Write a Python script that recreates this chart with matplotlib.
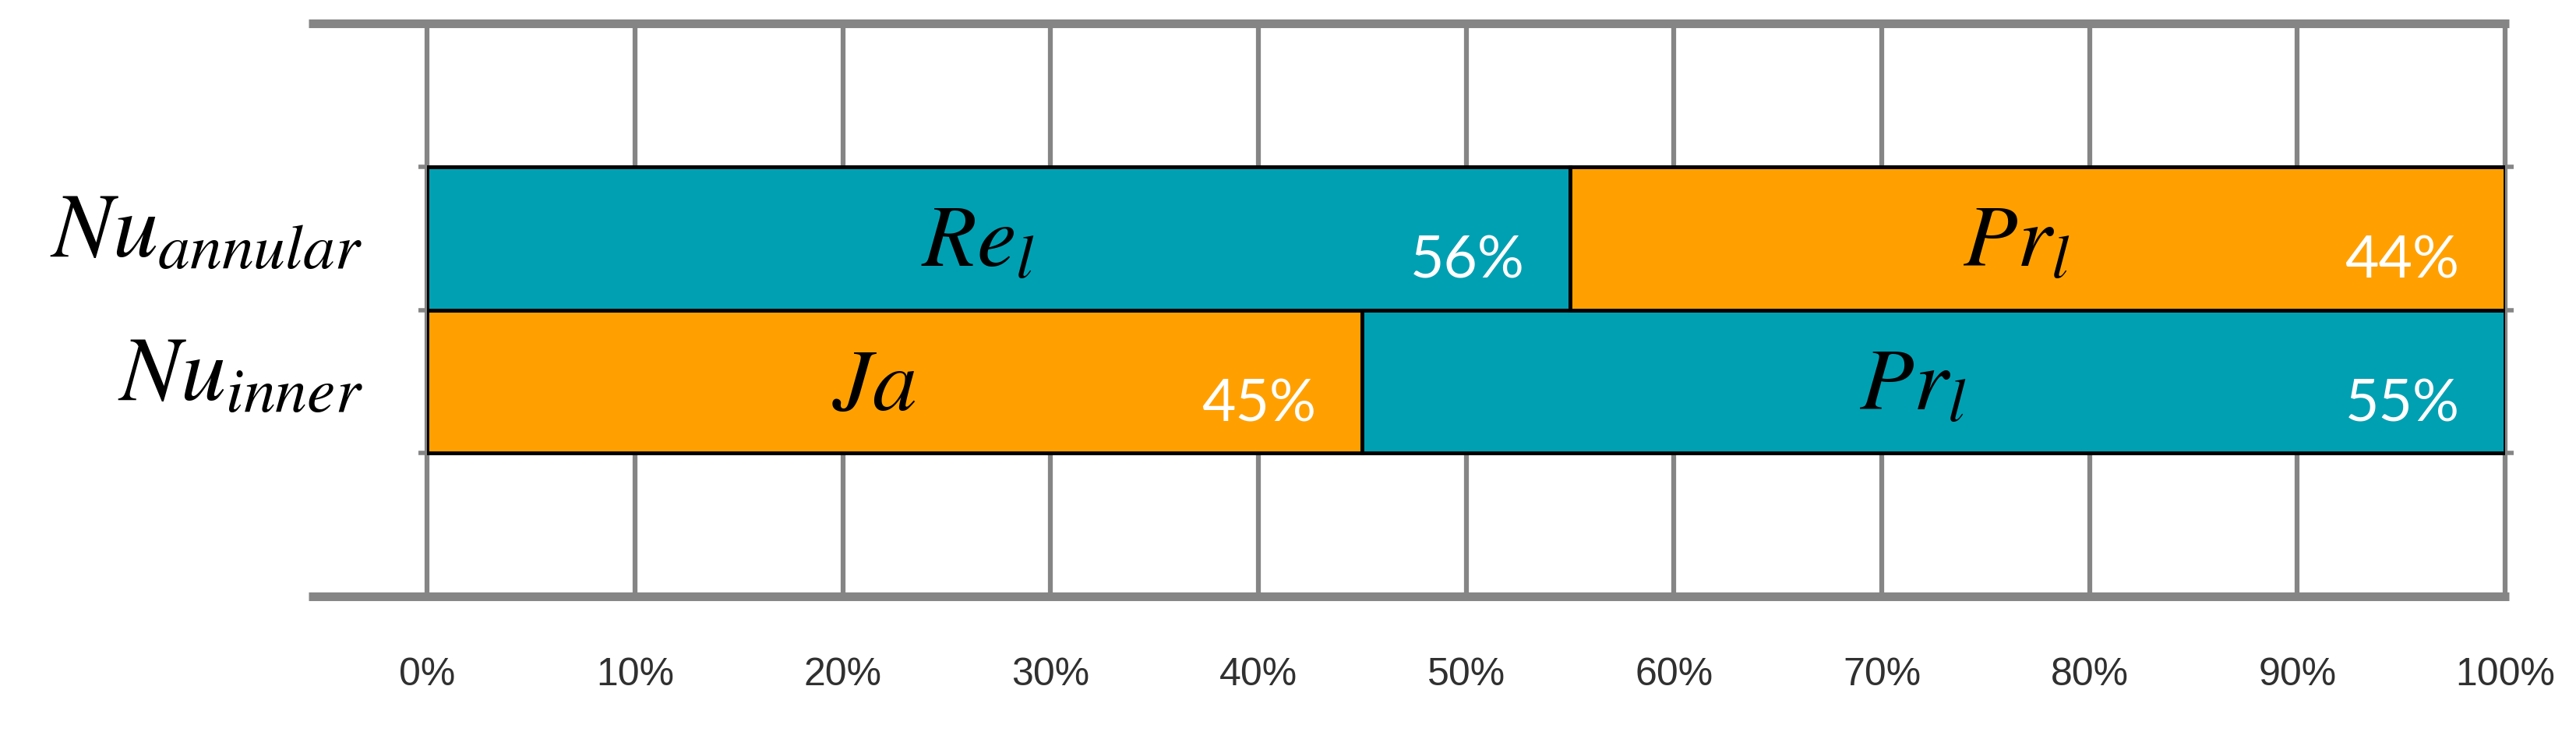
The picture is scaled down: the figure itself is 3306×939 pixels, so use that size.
import matplotlib.pyplot as plt
import numpy as np

plt.rcParams['mathtext.fontset'] = 'stix'

# rows, bottom to top
rows = [r'$Nu_{inner}$', r'$Nu_{annular}$']
first_share = [45, 55]
second_share = [55, 45]
first_pct = ['45%', '56%']
second_pct = ['55%', '44%']
first_names = [r'$Ja$', r'$Re_l$']
second_names = [r'$Pr_l$', r'$Pr_l$']
xtick_vals = [0, 10, 20, 30, 40, 50, 60, 70, 80, 90, 100]

teal = '#00A0B3'
orange = '#FFA000'
first_colors = [orange, teal]
second_colors = [teal, orange]
grid_gray = '#858585'

fig = plt.figure(figsize=(33.06, 9.39), dpi=100)
ax = fig.add_axes([0.1658, 0.1853, 0.8067, 0.7827])

ypos = np.array([1.5, 2.5])
ax.barh(ypos, first_share, height=1.0, color=first_colors,
        edgecolor='black', linewidth=3.5, zorder=3)
ax.barh(ypos, second_share, left=first_share, height=1.0, color=second_colors,
        edgecolor='black', linewidth=3.5, zorder=3)

pct_font = dict(color='white', fontsize=54, family=['Lato', 'DejaVu Sans'],
                ha='right', va='center', zorder=4)
for y, a, b, na, nb, pa, pb in zip(ypos, first_share, second_share,
                                   first_names, second_names, first_pct, second_pct):
    ax.text(a / 2 - 1, y - 0.2, na, ha='center', va='baseline', fontsize=82, zorder=4)
    ax.text(a + b / 2 - 1, y - 0.2, nb, ha='center', va='baseline', fontsize=82, zorder=4)
    ax.text(a - 2.2, y - 0.16, pa, **pct_font)
    ax.text(a + b - 2.2, y - 0.16, pb, **pct_font)

ax.set_xlim(0, 100)
ax.set_ylim(0, 4)

# vertical gridlines
for v in xtick_vals:
    ax.axvline(v, color=grid_gray, lw=4.5, zorder=1, clip_on=False)

# thick top / bottom lines reaching out to the left
for y in [0, 4]:
    ax.plot([-5.7, 100.2], [y, y], color=grid_gray, lw=8, clip_on=False,
            solid_capstyle='butt', zorder=2)

ax.set_xticks(xtick_vals)
ax.set_xticklabels([f'{v}%' for v in xtick_vals], fontsize=36,
                   family=['Liberation Sans Narrow', 'Liberation Sans'], color='#303030')
ax.tick_params(axis='x', length=0, pad=56)

# row labels
ax.set_yticks([])
for y, lab in zip(ypos, rows):
    ax.text(-0.031, y - 0.13, lab, transform=ax.get_yaxis_transform(),
            ha='right', va='baseline', fontsize=84)
ax.set_yticks([1, 2, 3], minor=True)
ax.tick_params(axis='y', which='minor', length=8, width=4, color=grid_gray,
               left=True, right=True, labelleft=False)

for s in ax.spines.values():
    s.set_visible(False)

fig.savefig('out.png', dpi=100)
